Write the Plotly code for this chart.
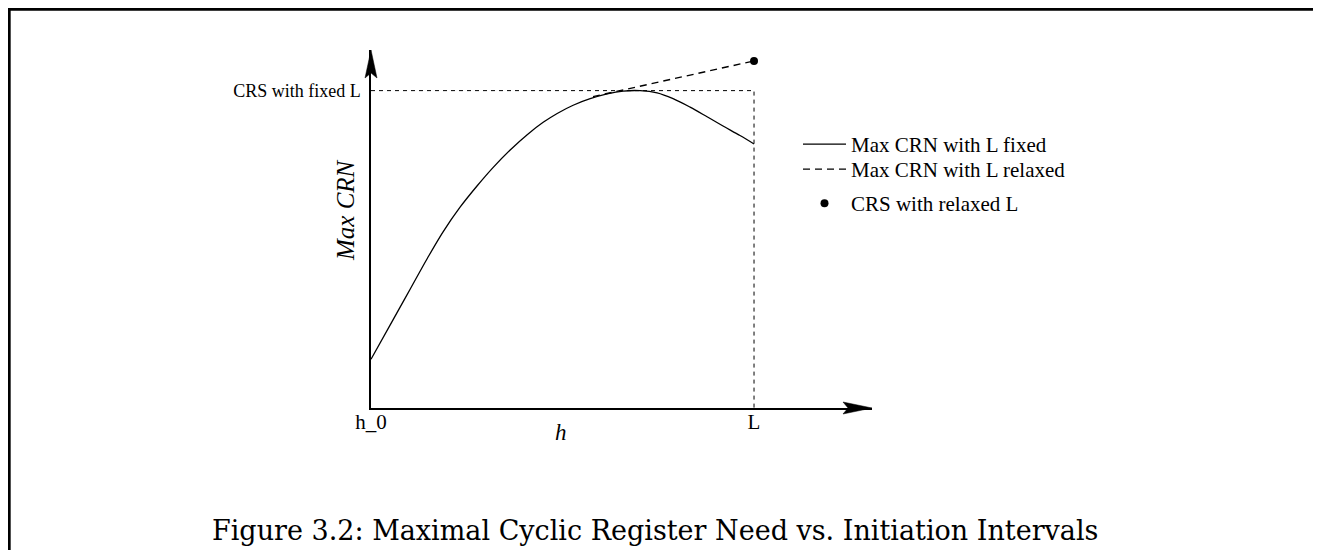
import plotly.graph_objects as go

# ---- data (arbitrary units: h_0 = 0, L = 10, CRS with fixed L = 10) ----
h_fixed = [0.0, 0.582, 1.025, 1.469, 1.886, 2.330, 2.773, 3.191, 3.634, 4.078,
           4.495, 4.861, 5.278, 5.722, 6.165, 6.583, 7.026, 7.470, 7.887, 8.331,
           8.774, 9.191, 9.634, 10.0]
crn_fixed = [1.535, 2.792, 3.750, 4.712, 5.559, 6.335, 7.003, 7.583, 8.131, 8.613,
             9.001, 9.281, 9.540, 9.745, 9.896, 9.985, 10.0, 9.931, 9.748, 9.480,
             9.177, 8.884, 8.585, 8.320]
h_relaxed = [5.796, 10.0]
crn_relaxed = [9.811, 10.936]
h_crs_relaxed = [10.0]
crn_crs_relaxed = [10.936]
h_crs_fixed = [0.0, 10.0, 10.0]
crn_crs_fixed = [10.0, 10.0, 0.0]
x_tick_vals = [0.0, 10.0]
x_tick_text = ["h_0", "L"]
y_tick_vals = [10.0]
y_tick_text = ["CRS with fixed L"]

X_MAX = 13.08
Y_MAX = 11.28
SERIF = "Liberation Serif, Times New Roman, serif"
CAPTION_FONT = "DejaVu Serif, serif"

fig = go.Figure()

# CRS with fixed L guide (horizontal + vertical dashed)
fig.add_trace(go.Scatter(
    x=h_crs_fixed, y=crn_crs_fixed, mode="lines",
    line=dict(color="black", width=1, dash="4px,4px"),
    showlegend=False, hoverinfo="skip"))

fig.add_trace(go.Scatter(
    x=h_fixed, y=crn_fixed, mode="lines", name="Max CRN with L fixed",
    line=dict(color="black", width=1.3, shape="spline", smoothing=1.0),
    legend="legend"))

fig.add_trace(go.Scatter(
    x=h_relaxed, y=crn_relaxed, mode="lines", name="Max CRN with L relaxed",
    line=dict(color="black", width=1.4, dash="7px,5px"),
    legend="legend2"))

fig.add_trace(go.Scatter(
    x=h_crs_relaxed, y=crn_crs_relaxed, mode="markers", name="CRS with relaxed L",
    marker=dict(color="black", size=8),
    legend="legend3"))

# arrow heads at the ends of the axes (paper-anchored so they are not clipped)
fig.add_shape(type="path", xref="paper", yref="paper", xsizemode="pixel", ysizemode="pixel",
              xanchor=0, yanchor=1,
              path="M 0 0 L -6 -28 L 0 -23 L 6 -28 Z",
              fillcolor="black", line=dict(color="black", width=0.5))
fig.add_shape(type="path", xref="paper", yref="paper", xsizemode="pixel", ysizemode="pixel",
              xanchor=1, yanchor=0,
              path="M 0 0 L -29 6 L -24 0 L -29 -6 Z",
              fillcolor="black", line=dict(color="black", width=0.5))

# page frame
fig.add_shape(type="rect", xref="paper", yref="paper",
              x0=-0.7219, x1=1.8902, y0=-0.4246, y1=1.1136,
              line=dict(color="black", width=2.7), layer="below")

fig.add_annotation(text="<i>Max CRN</i>", xref="paper", yref="paper",
                   x=-0.0519, y=0.553, xanchor="center", yanchor="middle",
                   showarrow=False, textangle=-90,
                   font=dict(family=SERIF, size=25, color="black"))
fig.add_annotation(text="<i>h</i>", xref="paper", yref="paper",
                   x=0.3792, y=-0.0698, xanchor="center", yanchor="middle",
                   showarrow=False,
                   font=dict(family=SERIF, size=23, color="black"))
fig.add_annotation(text="Figure 3.2: Maximal Cyclic Register Need vs. Initiation Intervals",
                   xref="paper", yref="paper", x=0.5659, y=-0.3408,
                   xanchor="center", yanchor="middle", showarrow=False,
                   font=dict(family=CAPTION_FONT, size=27, color="black"))

legend_common = dict(x=0.8523, xanchor="left", yanchor="top",
                     bgcolor="rgba(0,0,0,0)", borderwidth=0,
                     font=dict(family=SERIF, size=21, color="black"),
                     itemwidth=43)

fig.update_layout(
    width=1313, height=542,
    margin=dict(l=363, r=449, t=42, b=142),
    paper_bgcolor="white", plot_bgcolor="white",
    font=dict(family=SERIF, color="black"),
    showlegend=True,
    legend=dict(y=0.7933, **legend_common),
    legend2=dict(y=0.7235, **legend_common),
    legend3=dict(y=0.6285, **legend_common),
    xaxis=dict(range=[0, X_MAX], showgrid=False, zeroline=False,
               showline=True, linecolor="black", linewidth=1.5,
               tickvals=x_tick_vals, ticktext=x_tick_text, ticks="",
               ticklabelstandoff=-6,
               tickfont=dict(family=SERIF, size=21, color="black")),
    yaxis=dict(range=[0, Y_MAX], showgrid=False, zeroline=False,
               showline=True, linecolor="black", linewidth=1.5,
               tickvals=y_tick_vals, ticktext=y_tick_text, ticks="",
               ticklabelstandoff=5,
               tickfont=dict(family=SERIF, size=18, color="black")),
)

fig.write_html("out.html")
